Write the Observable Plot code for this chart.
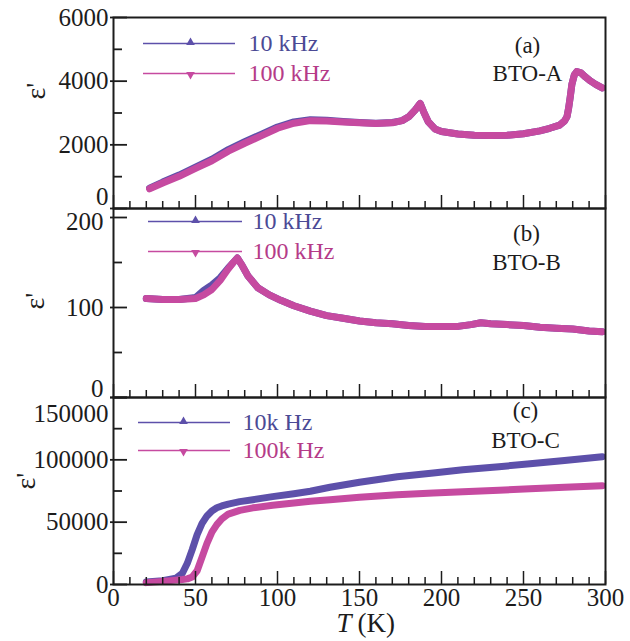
<!DOCTYPE html>
<html><head><meta charset="utf-8">
<script src="https://cdn.jsdelivr.net/npm/d3@7"></script>
<script src="https://cdn.jsdelivr.net/npm/@observablehq/plot@0.6"></script>
<style>
body{margin:0;background:#fff;}
#chart{width:630px;height:641px;}
#chart svg{display:block;overflow:visible;}
</style></head><body><div id="chart"></div>
<script>
// ---------- data ----------
const seriesNames = ["10 kHz", "100 kHz"];
const seriesNamesC = ["10k Hz", "100k Hz"];
const panelTags = ["(a)", "(b)", "(c)"];
const sampleNames = ["BTO-A", "BTO-B", "BTO-C"];

// Panel (a) BTO-A
const tempA   = [22, 30, 40, 50, 60, 70, 80, 90, 100, 110, 120, 130, 140, 150, 160, 170, 176, 180, 184, 187, 189, 192, 196, 200, 210, 220, 230, 240, 250, 260, 266, 272, 275, 276.5, 277.5, 278.5, 279.5, 281, 282.5, 285, 288, 291, 294, 298];
const epsA10  = [640, 830, 1050, 1300, 1550, 1850, 2100, 2330, 2560, 2720, 2790, 2770, 2730, 2700, 2680, 2700, 2760, 2880, 3100, 3300, 3050, 2720, 2500, 2420, 2340, 2300, 2290, 2300, 2350, 2440, 2520, 2620, 2750, 2880, 3150, 3500, 3900, 4200, 4300, 4260, 4120, 4000, 3900, 3790];
const epsA100 = [620, 800, 1010, 1260, 1500, 1800, 2050, 2280, 2520, 2680, 2760, 2750, 2720, 2690, 2670, 2690, 2760, 2880, 3100, 3300, 3050, 2720, 2500, 2420, 2340, 2300, 2290, 2300, 2350, 2440, 2520, 2620, 2750, 2880, 3150, 3500, 3900, 4200, 4300, 4260, 4120, 4000, 3900, 3790];

// Panel (b) BTO-B
const tempB   = [20, 30, 40, 50, 55, 60, 65, 70, 73, 75.5, 78, 82, 88, 95, 102, 110, 120, 130, 140, 150, 160, 170, 180, 190, 200, 210, 218, 224, 230, 240, 250, 260, 270, 280, 290, 298];
const epsB10  = [110, 109, 109, 111, 119, 125, 133, 144, 150, 155, 148, 135, 122, 114, 108, 102, 96, 91, 88, 85, 83, 82, 80, 79, 79, 79, 81, 83, 82, 81, 80, 78, 77, 76, 74, 73];
const epsB100 = [110, 109, 109, 110, 114, 120, 130, 143, 150, 155, 148, 135, 122, 114, 108, 102, 96, 91, 88, 85, 83, 82, 80, 79, 79, 79, 81, 83, 82, 81, 80, 78, 77, 76, 74, 73];

// Panel (c) BTO-C
const tempC   = [20, 30, 38, 42, 45, 48, 51, 54, 57, 60, 63, 66, 70, 77, 85, 97, 110, 120, 132, 150, 173, 195, 213, 235, 254, 275, 298];
const epsC10  = [2000, 3000, 5000, 9000, 17000, 28000, 40000, 49000, 55000, 59000, 61500, 63000, 64500, 66500, 68000, 70500, 72800, 74800, 78000, 82000, 86400, 89500, 92000, 94500, 96800, 99500, 102500];
const epsC100 = [1500, 2500, 3500, 4000, 4500, 6000, 11000, 22000, 33000, 42000, 48000, 52500, 56500, 59500, 61500, 63500, 65300, 66800, 68000, 70000, 72000, 73300, 74400, 75600, 76800, 78000, 79200];

const xMajorTicks = [0, 50, 100, 150, 200, 250, 300];
const xMinorTicks = [10, 20, 30, 40, 60, 70, 80, 90, 110, 120, 130, 140, 160, 170, 180, 190, 210, 220, 230, 240, 260, 270, 280, 290];
const yMajorA = [0, 2000, 4000, 6000], yMinorA = [1000, 3000, 5000];
const yMajorB = [0, 100, 200], yMinorB = [50, 150];
const yMajorC = [0, 50000, 100000, 150000], yMinorC = [25000, 75000, 125000];

// ---------- styling ----------
const FONT = "'Liberation Serif', 'Times New Roman', serif";
const BLUE = "#5d50aa", MAGENTA = "#c64aa0";
const BLUE_TXT = "#4b4a95", MAG_TXT = "#b53b88";
const INK = "#1c1c1c";
const triDown = {
  draw(ctx, size) {
    const s = Math.sqrt(size / (Math.sqrt(3) / 4));
    const h = s * Math.sqrt(3) / 2;
    ctx.moveTo(0, h * 2 / 3);
    ctx.lineTo(s / 2, -h / 3);
    ctx.lineTo(-s / 2, -h / 3);
    ctx.closePath();
  }
};
const txt = (s, opts) => Plot.text([s], {text: d => d, textAnchor: "middle", lineAnchor: "middle", ...opts});

function makePanel(o) {
  const d10 = o.temps.map((T, i) => ({T, v: o.s10[i]}));
  const d100 = o.temps.map((T, i) => ({T, v: o.s100[i]}));
  const top = o.yDomain[1];
  const special = new Map(o.shifted);
  const L = o.legend;
  const marks = [
    Plot.line(d10, {x: "T", y: "v", stroke: BLUE, strokeWidth: 7, strokeLinejoin: "round"}),
    Plot.line(d100, {x: "T", y: "v", stroke: MAGENTA, strokeWidth: 7, strokeLinejoin: "round"}),
    Plot.frame({stroke: INK, strokeWidth: 2}),
    Plot.axisX({ticks: xMinorTicks, tickSize: -7, tickFormat: () => "", label: null, stroke: INK, strokeWidth: 1.5}),
    Plot.axisX({ticks: xMajorTicks, tickSize: -13, tickFormat: () => "", label: null, stroke: INK, strokeWidth: 1.5}),
    Plot.axisY({ticks: o.yMinor, tickSize: -9, tickFormat: () => "", label: null, stroke: INK, strokeWidth: 1.8}),
    Plot.axisY({ticks: o.yMajor, tickSize: -14, tickPadding: 14 + o.pad, label: null, stroke: INK, strokeWidth: 1.8, fill: INK,
      tickFormat: d => special.has(d) ? "" : String(d)}),
    Plot.axisY({ticks: o.yMajor, tickSize: 3, tickFormat: () => "", label: null, stroke: INK, strokeWidth: 1.8}),
    ...[...special].map(([v, dy]) => Plot.axisY({ticks: [v], tickSize: 0, tickPadding: o.pad, dy, label: null, fill: INK, tickFormat: d => String(d)})),
    txt("ε'", {frameAnchor: "left", dx: o.labDx, dy: o.labDy, rotate: -90, fontSize: 28, fill: INK}),
    // legend
    Plot.ruleY([top], {dy: L.dy1, insetLeft: L.x1, insetRight: L.x2, stroke: BLUE, strokeWidth: 1.6}),
    Plot.ruleY([top], {dy: L.dy2, insetLeft: L.x1, insetRight: L.x2, stroke: MAGENTA, strokeWidth: 1.6}),
    Plot.dot([0], {frameAnchor: "top-left", dx: L.mx, dy: L.dy1 - 1, symbol: "triangle", r: 3.2, fill: BLUE, stroke: "none"}),
    Plot.dot([0], {frameAnchor: "top-left", dx: L.mx, dy: L.dy2 + 1, symbol: triDown, r: 3.2, fill: MAGENTA, stroke: "none"}),
    txt(o.names[0], {frameAnchor: "top-left", dx: L.tx, dy: L.dy1, textAnchor: "start", fill: BLUE_TXT, fontSize: 24}),
    txt(o.names[1], {frameAnchor: "top-left", dx: L.tx, dy: L.dy2, textAnchor: "start", fill: MAG_TXT, fontSize: 24}),
    // panel tag
    txt(o.tag, {frameAnchor: "top-right", dx: o.tagDx, dy: o.tagDy1, fill: INK, fontSize: 23}),
    txt(o.sample, {frameAnchor: "top-right", dx: o.tagDx, dy: o.tagDy2, fill: INK, fontSize: 23})
  ];
  if (o.xLabels) {
    marks.push(
      Plot.axisX({ticks: xMajorTicks, tickSize: 0, tickPadding: 4, label: null, fill: INK, tickFormat: d => String(d)}),
      txt("T", {frameAnchor: "bottom", dx: -8, dy: 39, textAnchor: "end", fontStyle: "italic", fontSize: 27, fill: INK}),
      txt("(K)", {frameAnchor: "bottom", dx: -2, dy: 39, textAnchor: "start", fontSize: 27, fill: INK})
    );
  }
  return Plot.plot({
    width: 630, height: o.height,
    marginLeft: 113, marginRight: 25, marginTop: o.mt, marginBottom: o.mb,
    x: {domain: [0, 300]},
    y: {domain: o.yDomain},
    style: {fontFamily: FONT, fontSize: "25px", background: "transparent", overflow: "visible", color: INK},
    marks
  });
}

const chart = document.getElementById("chart");
chart.append(makePanel({
  temps: tempA, s10: epsA10, s100: epsA100, yDomain: [0, 6000], yMajor: yMajorA, yMinor: yMinorA,
  height: 208, mt: 17, mb: 0, pad: 5, shifted: [[0, -12]], labDx: -77, labDy: -22,
  legend: {dy1: 26, dy2: 56, x1: 30, x2: 370, mx: 77, tx: 135},
  names: seriesNames, tag: panelTags[0], sample: sampleNames[0], tagDx: -78, tagDy1: 28, tagDy2: 56
}));
chart.append(makePanel({
  temps: tempB, s10: epsB10, s100: epsB100, yDomain: [0, 210], yMajor: yMajorB, yMinor: yMinorB,
  height: 189, mt: 0, mb: 0, pad: 10, shifted: [[0, -9], [200, 4]], labDx: -78, labDy: -2,
  legend: {dy1: 13, dy2: 43, x1: 35, x2: 363, mx: 82, tx: 139},
  names: seriesNames, tag: panelTags[1], sample: sampleNames[1], tagDx: -79, tagDy1: 25, tagDy2: 54
}));
chart.append(makePanel({
  temps: tempC, s10: epsC10, s100: epsC100, yDomain: [0, 150000], yMajor: yMajorC, yMinor: yMinorC,
  height: 244, mt: 0, mb: 57, pad: 5, shifted: [[150000, 16]], labDx: -87, labDy: -10,
  legend: {dy1: 25, dy2: 53, x1: 25, x2: 375, mx: 70, tx: 129},
  names: seriesNamesC, tag: panelTags[2], sample: sampleNames[2], tagDx: -80, tagDy1: 13, tagDy2: 43,
  xLabels: true
}));
</script></body></html>
